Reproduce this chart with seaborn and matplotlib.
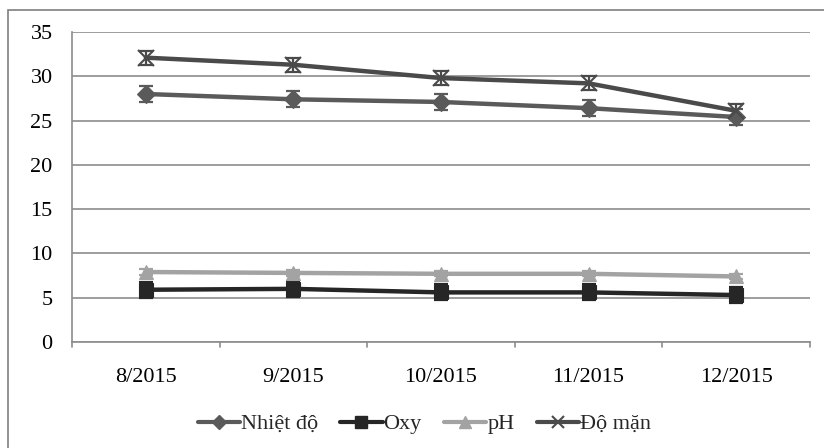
import matplotlib
matplotlib.use("Agg")
import unicodedata
import matplotlib.pyplot as plt
import seaborn as sns
import pandas as pd
from matplotlib import font_manager as fm
from matplotlib.ft2font import FT2Font
from matplotlib.patches import Rectangle

months = ["8/2015", "9/2015", "10/2015", "11/2015", "12/2015"]

nhiet_do = [28.0, 27.4, 27.1, 26.4, 25.4]
nhiet_do_err = [0.9, 0.9, 0.9, 0.9, 0.9]

oxy = [5.9, 6.0, 5.6, 5.6, 5.3]
oxy_err = [0.9, 0.9, 0.9, 0.9, 0.9]

ph = [7.9, 7.8, 7.7, 7.7, 7.4]
ph_err = [0.3, 0.3, 0.3, 0.3, 0.3]

do_man = [32.1, 31.3, 29.8, 29.2, 26.1]
do_man_err = [0.8, 0.8, 0.8, 0.8, 0.8]

series = [unicodedata.normalize("NFC", s) for s in ["Nhiệt độ", "Oxy", "pH", "Độ mặn"]]
values = [nhiet_do, oxy, ph, do_man]
errors = [nhiet_do_err, oxy_err, ph_err, do_man_err]
colors = ["#5a5a5a", "#262626", "#a3a3a3", "#4a4a4a"]
markers = ["D", "s", "^", "x"]
msizes = [9, 10, 10, 11]


def serif_with(chars, candidates):
    """First installed serif family whose font file covers all chars."""
    for fam in candidates:
        for entry in fm.fontManager.ttflist:
            if entry.name != fam:
                continue
            try:
                cmap = FT2Font(entry.fname).get_charmap()
            except Exception:
                continue
            if all(ord(ch) in cmap for ch in chars):
                return fam
    return None


sns.set_theme(style="white")
serif_candidates = ["Liberation Serif", "DejaVu Serif", "Noto Serif", "Tinos",
                    "FreeSerif", "Times New Roman"]
viet_chars = "".join(sorted(set("".join(series)) - set("abcdefghijklmnopqrstuvwxyzABCDEFGHIJKLMNOPQRSTUVWXYZ ")))
legend_font = serif_with(viet_chars, serif_candidates) or "DejaVu Serif"
plt.rcParams["font.family"] = ["Liberation Serif", legend_font, "DejaVu Sans"]

fig = plt.figure(figsize=(8.24, 4.48), dpi=100)
fig.patch.set_facecolor("white")
ax = fig.add_axes([0.0874, 0.2366, 0.8956, 0.692])

# outer frame (only the left and top edges fall inside the canvas)
fig.patches.append(Rectangle((8 / 824, -1.0), 2.0, 2.0 - 10 / 448,
                             transform=fig.transFigure, fill=False,
                             edgecolor="#7f7f7f", linewidth=1.2, zorder=0))

rows = []
for name, vals in zip(series, values):
    for i, v in enumerate(vals):
        rows.append({"pos": i, "value": v, "series": name})
df = pd.DataFrame(rows)

for name, vals, errs, c, m, ms in zip(series, values, errors, colors, markers, msizes):
    ax.errorbar(range(len(months)), vals, yerr=errs, fmt="none",
                ecolor=c, elinewidth=1.6, capsize=5, capthick=1.6, zorder=3)
    sub = df[df["series"] == name]
    sns.lineplot(data=sub, x="pos", y="value", color=c, marker=m,
                 markersize=ms, markeredgewidth=1.5 if m == "x" else 0.8,
                 markeredgecolor=c, linewidth=3.2, ax=ax, legend=False,
                 zorder=4)

ax.set_xlim(-0.5, 4.5)
ax.set_ylim(0, 35)
ax.set_yticks(range(0, 36, 5))
ax.set_xticks(range(len(months)))
ax.set_xticklabels(months)
ax.set_xlabel("")
ax.set_ylabel("")
ax.grid(axis="y", color="#8c8c8c", linewidth=1.2)
ax.set_axisbelow(True)
for s in ["top", "right"]:
    ax.spines[s].set_visible(False)
for s in ["left", "bottom"]:
    ax.spines[s].set_color("#8c8c8c")
    ax.spines[s].set_linewidth(1.2)

ax.tick_params(axis="y", length=0, pad=14, labelsize=16, colors="#000000")
ax.tick_params(axis="x", length=0, pad=19, labelsize=16, colors="#000000")
for xb in [-0.5, 0.5, 1.5, 2.5, 3.5, 4.5]:
    ax.plot([xb, xb], [0, -0.6], color="#8c8c8c", linewidth=1.2,
            clip_on=False, zorder=2)

handles = [plt.Line2D([], [], color=c, marker=m, markersize=ms * 0.8,
                      linewidth=3, markeredgewidth=1.5 if m == "x" else 1)
           for c, m, ms in zip(colors, markers, msizes)]
fig.legend(handles, series, loc="center", bbox_to_anchor=(0.515, 1 - 424 / 448),
           ncol=4, frameon=False, handlelength=1.9,
           handletextpad=0.05, columnspacing=1.0,
           prop={"family": [legend_font, "Liberation Serif", "DejaVu Sans"], "size": 16})

fig.savefig("out.png", dpi=100)
